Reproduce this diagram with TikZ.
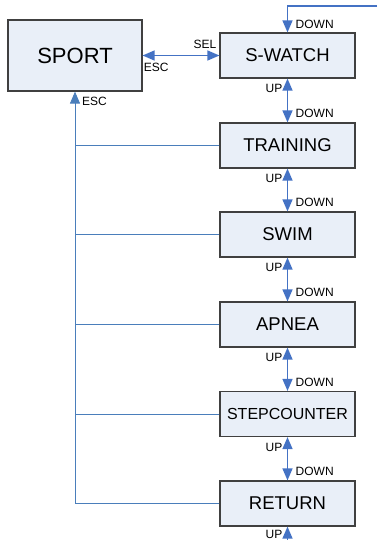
\documentclass[tikz,border=0pt]{standalone}
\usepackage{fontspec}
\setmainfont{Liberation Sans}
\usetikzlibrary{arrows.meta,calc}
\definecolor{boxfill}{RGB}{233,239,248}
\definecolor{boxline}{RGB}{64,64,64}
\definecolor{arrblue}{RGB}{68,114,196}
\definecolor{lineblue}{RGB}{74,126,187}
\begin{document}
\begin{tikzpicture}[x=1pt,y=-1pt,
  box/.style={draw=boxline, fill=boxfill, line width=1.2pt, minimum width=135pt, minimum height=45pt, inner sep=0pt, font=\fontsize{18.5}{20}\selectfont},
  lbl/.style={inner sep=0pt, font=\fontsize{12}{12}\selectfont},
  arr/.style={draw=arrblue, line width=1.4pt, -{Triangle[width=10pt,length=12pt]}},
  darr/.style={draw=arrblue, line width=1.4pt, {Triangle[width=10pt,length=12pt]}-{Triangle[width=10pt,length=12pt]}},
  leftline/.style={draw=lineblue, line width=0.9pt}]
\useasboundingbox (0,0) rectangle (377,540);
\node[box, minimum width=134pt, minimum height=71pt, font=\fontsize{22}{24}\selectfont] (sport) at (75,55.5) {SPORT};
\node[box] (sw) at (287.5,55.5) {S-WATCH};
\node[box] (tr) at (287.5,145.5) {TRAINING};
\node[box] (swim) at (287.5,234.5) {SWIM};
\node[box] (ap) at (287.5,324.5) {APNEA};
\node[box, font=\fontsize{16}{18}\selectfont] (st) at (287.5,414) {STEPCOUNTER};
\node[box] (re) at (287.5,503.5) {RETURN};
% top input
\coordinate (topin) at (377,6);
\draw[arr] (topin) -| (sw.north);
\node[lbl, anchor=west] (d0) at ($(sw.north)+(8,-8)$) {DOWN};
% sport <-> swatch
\draw[darr] (sport.east) -- (sw.west);
\node[lbl, anchor=east] (sel) at ($(sw.west)+(-3,-11)$) {SEL};
\node[lbl, anchor=west] (esc1) at ($(sport.east)+(1,11.5)$) {ESC};
% vertical chain
\foreach \a/\b/\i in {sw/tr/1, tr/swim/2, swim/ap/3, ap/st/4, st/re/5}{
  \draw[darr] (\a.south) -- (\b.north);
  \node[lbl, anchor=east] (up\i) at ($(\a.south)+(-5,10)$) {UP};
  \node[lbl, anchor=west] (dn\i) at ($(\b.north)+(8,-9)$) {DOWN};
}
% bottom input
\coordinate (botin) at (287.5,540);
\draw[arr] (botin) -- (re.south);
\node[lbl, anchor=east] (up6) at ($(re.south)+(-5,7.5)$) {UP};
% left return lines
\draw[leftline, -{Triangle[width=10pt,length=12pt]}] (re.west) -| (sport.south);
\foreach \n in {tr, swim, ap, st}{
  \draw[leftline] (\n.west) -- (\n.west -| sport.south);
}
\node[lbl, anchor=west] (esc2) at ($(sport.south)+(7,10)$) {ESC};
\end{tikzpicture}
\end{document}
